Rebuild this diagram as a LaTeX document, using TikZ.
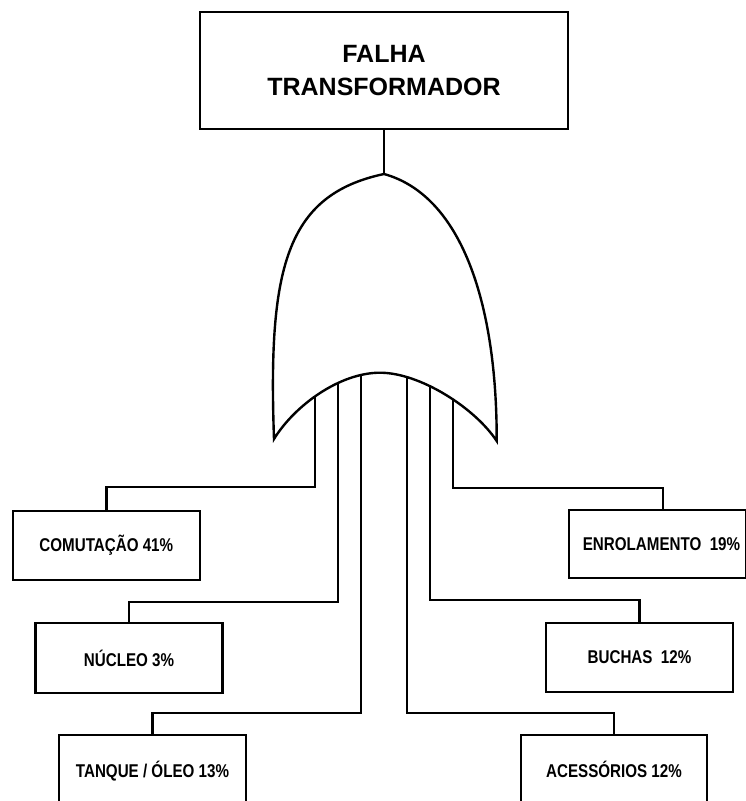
\documentclass[tikz,border=0pt]{standalone}
\usepackage{fontspec}
\setmainfont{Liberation Sans}
\newfontfamily\narrowsans[FakeStretch=0.82]{Liberation Sans}
\begin{document}
\begin{tikzpicture}[x=1pt,y=-1pt,line width=2.4pt,
  topbox/.style={draw,line width=2.6pt,inner sep=0pt,align=center,
    minimum width=368pt,minimum height=117pt,
    font=\fontsize{25}{33}\selectfont\bfseries},
  evbox/.style={draw,line width=2.6pt,inner sep=0pt,
    minimum width=187pt,minimum height=69pt,
    font=\narrowsans\fontsize{18.5}{20}\selectfont\bfseries},
  wire/.style={line width=2.4pt}]
\clip (0,0) rectangle (746,801);

% top event
\node[topbox] (top) at (384,70.5) {FALHA\\TRANSFORMADOR};

% basic events
\node[evbox] (com) at (106.3,545.3) {COMUTAÇÃO 41\%};
\node[evbox,minimum height=70pt] (nuc) at (129,658) {NÚCLEO 3\%};
\node[evbox,minimum height=73pt] (tan) at (152.5,771.5) {TANQUE / ÓLEO 13\%};
\node[evbox,minimum width=177pt,minimum height=68pt] (enr) at (657.5,544) {\hspace{8pt}ENROLAMENTO\ \ 19\%};
\node[evbox] (buc) at (639.5,657.5) {BUCHAS\ \ 12\%};
\node[evbox,minimum width=186pt] (ace) at (614,769.5) {ACESSÓRIOS 12\%};

% OR gate inputs (hidden under the gate body)
\coordinate (g1) at (315,385);
\coordinate (g2) at (338,375);
\coordinate (g3) at (361,368);
\coordinate (g4) at (407,368);
\coordinate (g5) at (430,375);
\coordinate (g6) at (453,388);
\coordinate (enrin) at ([xshift=5.5pt]enr.north);

% connectors
\draw[wire] (g1) |- (com.north |- 0,487) -- (com.north);
\draw[wire] (g2) |- (nuc.north |- 0,601.7) -- (nuc.north);
\draw[wire] (g3) |- (tan.north |- 0,713) -- (tan.north);
\draw[wire] (g6) |- (enrin |- 0,488) -- (enrin);
\draw[wire] (g5) |- (buc.north |- 0,600) -- (buc.north);
\draw[wire] (g4) |- (ace.north |- 0,713) -- (ace.north);

% OR gate body
\coordinate (apex) at (384,174);
\draw[line width=2.4pt,fill=white,line join=miter]
  (274,439) .. controls (268,270) and (285,195) .. (apex)
  .. controls (460,195) and (497,300) .. (496.7,441)
  .. controls (475,408) and (420,372.7) .. (380,372.7)
  .. controls (340,372.7) and (295,405) .. cycle;

\draw[wire] (top.south) -- (apex);
\end{tikzpicture}
\end{document}
